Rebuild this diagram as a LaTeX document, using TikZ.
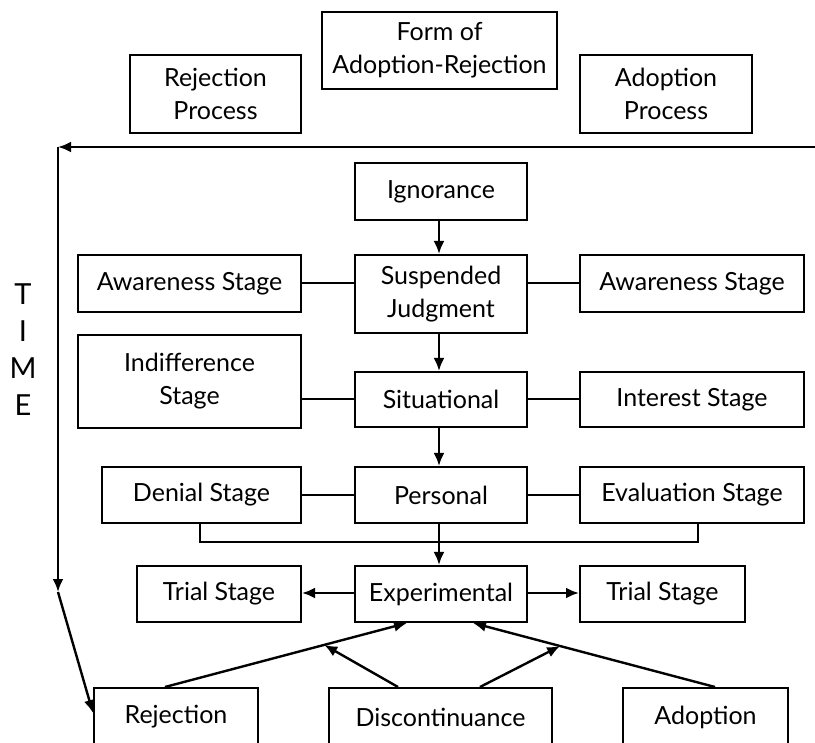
\documentclass[tikz,border=0pt]{standalone}
\usepackage{fontspec}
\setmainfont{Lato}
\usetikzlibrary{arrows.meta,calc}
\begin{document}
\begin{tikzpicture}[x=1pt,y=-1pt,
  box/.style={draw, line width=2pt, align=center, inner sep=2pt, font=\fontsize{25}{33}\selectfont},
  lbl/.style={font=\fontsize{29}{33}\selectfont, inner sep=0pt},
  link/.style={line width=2pt},
  arr/.style={line width=2.4pt, -{Latex[length=13pt,width=11pt]}}]
\useasboundingbox (0,0) rectangle (815,743);
\clip (0,0) rectangle (815,743);

% header row
\node[box, minimum width=235pt, minimum height=77pt] (form) at (439.5,50.5) {Form of\\Adoption-Rejection};
\node[box, minimum width=171pt, minimum height=78pt] (rejP) at (215.5,94) {Rejection\\Process};
\node[box, minimum width=172pt, minimum height=78pt] (adoP) at (666,94) {Adoption\\Process};

% central column
\node[box, minimum width=172pt, minimum height=57pt] (ign)  at (441,191.5) {Ignorance};
\node[box, minimum width=172pt, minimum height=78pt] (susp) at (441,294) {Suspended\\Judgment};
\node[box, minimum width=172pt, minimum height=55pt] (sit)  at (441,399.5) {Situational};
\node[box, minimum width=172pt, minimum height=56pt] (pers) at (441,495) {Personal};
\node[box, minimum width=172pt, minimum height=56pt] (exp)  at (441,594) {Experimental};

% rejection side
\node[box, minimum width=223pt, minimum height=57pt] (awL) at (189.5,283.5) {Awareness Stage};
\node[box, minimum width=223pt, minimum height=93pt] (ind) at (189.5,381.5) {Indifference\\Stage};
\node[box, minimum width=199pt, minimum height=56pt] (den) at (201.5,495) {Denial Stage};
\node[box, minimum width=164pt, minimum height=56pt] (trL) at (219,594) {Trial Stage};

% adoption side
\node[box, minimum width=224pt, minimum height=57pt] (awR)  at (692,283.5) {Awareness Stage};
\node[box, minimum width=224pt, minimum height=55pt] (intr) at (692,399.5) {Interest Stage};
\node[box, minimum width=224pt, minimum height=56pt] (eval) at (692,495) {Evaluation Stage};
\node[box, minimum width=165pt, minimum height=56pt] (trR)  at (662.5,594) {Trial Stage};

% outcomes
\node[box, minimum width=164pt, minimum height=58pt] (rej)  at (176,717) {Rejection};
\node[box, minimum width=223pt, minimum height=58pt] (disc) at (440.5,717) {Discontinuance};
\node[box, minimum width=165pt, minimum height=58pt] (adop) at (705.5,717) {Adoption};

% time axis
\node[lbl] (tT) at (23,294) {T};
\node[lbl] (tI) at (23,331) {I};
\node[lbl] (tM) at (23,368) {M};
\node[lbl] (tE) at (23,405) {E};
\coordinate (tR) at (815,147);
\coordinate (tL) at (58,147);
\coordinate (tB) at (58,592);
\draw[arr] (tR) -- (tL);
\draw[arr] (tL) -- (tB);
\draw[arr] (tB) -- ([yshift=4pt]rej.west);

% stage links
\draw[link] (awL.east) -- (awL.east -| susp.west);
\draw[link] (awR.west -| susp.east) -- (awR.west);
\draw[link] (sit.west -| ind.east) -- (sit.west);
\draw[link] (sit.east) -- (intr.west);
\draw[link] (den.east) -- (pers.west);
\draw[link] (pers.east) -- (eval.west);
\draw[line width=1.6pt] ([xshift=-1.5pt]den.south) -- ++(0,18) -| ([xshift=6pt]eval.south);

% flow through the central column
\draw[arr] ([xshift=-2pt]ign.south) -- ([xshift=-2pt]susp.north);
\draw[arr] ([xshift=-2pt]susp.south) -- ([xshift=-2pt]sit.north);
\draw[arr] ([xshift=-2pt]sit.south) -- ([xshift=-2pt]pers.north);
\draw[arr] ([xshift=-2pt]pers.south) -- ([xshift=-2pt]exp.north);
\draw[arr] ([yshift=1pt]exp.west) -- ([yshift=1pt]trL.east);
\draw[arr] ([yshift=1pt]exp.east) -- ([yshift=1pt]trR.west);

% outcomes feeding back
\coordinate (r0) at ([xshift=-11pt]rej.north);
\coordinate (r1) at ([xshift=53pt]exp.south west);
\coordinate (a0) at ([xshift=9.5pt]adop.north);
\coordinate (a1) at ([xshift=32pt]exp.south);
\draw[arr] (r0) -- (r1);
\draw[arr] (a0) -- (a1);
\draw[arr] ([xshift=-42.5pt]disc.north) -- ($(r0)!0.658!(r1)$);
\draw[arr] ([xshift=39.5pt]disc.north) -- ($(a0)!0.64!(a1)$);
\end{tikzpicture}
\end{document}
